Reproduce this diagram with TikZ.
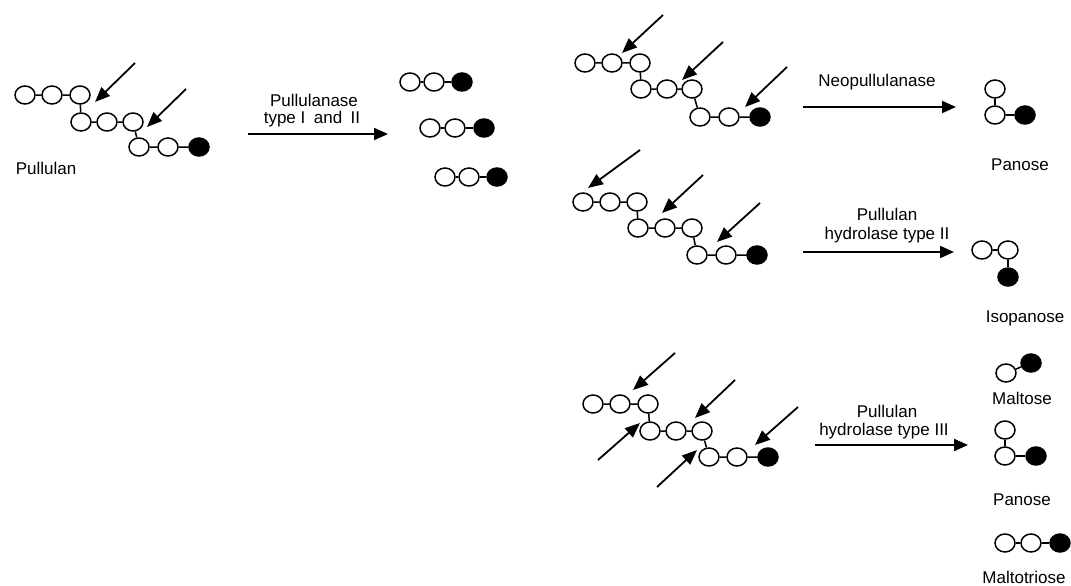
\documentclass[tikz,border=0pt]{standalone}
\usepackage{fontspec}
\setmainfont{Liberation Sans}
\usetikzlibrary{arrows.meta,shapes.geometric}
\begin{document}
\begin{tikzpicture}[x=1pt,y=-1pt,
  wc/.style={ellipse,draw,line width=1.5pt,minimum width=20pt,minimum height=18pt,inner sep=0pt},
  bc/.style={wc,fill=black},
  lk/.style={line width=1.5pt},
  cut/.style={line width=1.8pt,-{Triangle[length=15pt,width=12pt]}},
  rx/.style={line width=2pt,-{Triangle[length=14pt,width=12pt]}},
  lbl/.style={font=\fontsize{17}{20}\selectfont,inner sep=0pt,align=center}]
\useasboundingbox (0,0) rectangle (1071,586);

% ---------- Chain 1: Pullulan ----------
\node[wc] (p1a1) at (25,95) {};
\node[wc] (p1a2) at (52,95) {};
\node[wc] (p1a3) at (80,95) {};
\node[wc] (p1b1) at (81,122) {};
\node[wc] (p1b2) at (107,122) {};
\node[wc] (p1b3) at (133,122) {};
\node[wc] (p1c1) at (139,147) {};
\node[wc] (p1c2) at (168,147) {};
\node[bc] (p1c3) at (199,147) {};
\draw[lk] (p1a1)--(p1a2) (p1a2)--(p1a3) (p1a3)--(p1b1) (p1b1)--(p1b2) (p1b2)--(p1b3) (p1b3)--(p1c1) (p1c1)--(p1c2) (p1c2)--(p1c3);
\draw[cut] (135,63) -- (95,102);
\draw[cut] (186,89) -- (147,127);
\node[lbl] (pullulan) at (46,168) {Pullulan};

% ---------- Reaction 1 ----------
\coordinate (r1s) at (248,134);
\coordinate (r1e) at (388,134);
\draw[rx] (r1s) -- (r1e);
\node[lbl] (r1t) at (314,100) {Pullulanase};
\node[lbl] (r1u) at (312,119) {type I\enspace and\enspace II};

% products
\node[wc] (q1a) at (410,82) {};
\node[wc] (q1b) at (434,82) {};
\node[bc] (q1c) at (462,82) {};
\draw[lk] (q1a)--(q1b) (q1b)--(q1c);
\node[wc] (q2a) at (430,128) {};
\node[wc] (q2b) at (455,128) {};
\node[bc] (q2c) at (484,128) {};
\draw[lk] (q2a)--(q2b) (q2b)--(q2c);
\node[wc] (q3a) at (445,177) {};
\node[wc] (q3b) at (469,177) {};
\node[bc] (q3c) at (497,177) {};
\draw[lk] (q3a)--(q3b) (q3b)--(q3c);

% ---------- Chain 2: Neopullulanase ----------
\node[wc] (p2a1) at (585,63) {};
\node[wc] (p2a2) at (612,63) {};
\node[wc] (p2a3) at (640,63) {};
\node[wc] (p2b1) at (641,89) {};
\node[wc] (p2b2) at (667,89) {};
\node[wc] (p2b3) at (692,89) {};
\node[wc] (p2c1) at (700,117) {};
\node[wc] (p2c2) at (729,117) {};
\node[bc] (p2c3) at (760,117) {};
\draw[lk] (p2a1)--(p2a2) (p2a2)--(p2a3) (p2a3)--(p2b1) (p2b1)--(p2b2) (p2b2)--(p2b3) (p2b3)--(p2c1) (p2c1)--(p2c2) (p2c2)--(p2c3);
\draw[cut] (663,15) -- (622,53);
\draw[cut] (723,42) -- (682,80);
\draw[cut] (787,67) -- (745,107);

\coordinate (r2s) at (803,107);
\coordinate (r2e) at (956,107);
\draw[rx] (r2s) -- (r2e);
\node[lbl] (r2t) at (877,82) {Neopullulanase};

\node[wc] (s1a) at (995,89) {};
\node[wc] (s1b) at (995,115) {};
\node[bc] (s1c) at (1025,115) {};
\draw[lk] (s1a)--(s1b) (s1b)--(s1c);
\node[lbl] (panose1) at (1020,165) {Panose};

% ---------- Chain 3: Pullulan hydrolase type II ----------
\node[wc] (p3a1) at (583,202) {};
\node[wc] (p3a2) at (610,202) {};
\node[wc] (p3a3) at (637,202) {};
\node[wc] (p3b1) at (638,228) {};
\node[wc] (p3b2) at (665,228) {};
\node[wc] (p3b3) at (692,228) {};
\node[wc] (p3c1) at (697,255) {};
\node[wc] (p3c2) at (726,255) {};
\node[bc] (p3c3) at (757,255) {};
\draw[lk] (p3a1)--(p3a2) (p3a2)--(p3a3) (p3a3)--(p3b1) (p3b1)--(p3b2) (p3b2)--(p3b3) (p3b3)--(p3c1) (p3c1)--(p3c2) (p3c2)--(p3c3);
\draw[cut] (640,150) -- (588,188);
\draw[cut] (703,175) -- (662,213);
\draw[cut] (760,203) -- (717,242);

\coordinate (r3s) at (803,252);
\coordinate (r3e) at (954,252);
\draw[rx] (r3s) -- (r3e);
\node[lbl] (r3t) at (887,214) {Pullulan};
\node[lbl] (r3u) at (887,235) {hydrolase type II};

\node[wc] (s2a) at (982,250) {};
\node[wc] (s2b) at (1008,250) {};
\node[bc] (s2c) at (1008,277) {};
\draw[lk] (s2a)--(s2b) (s2b)--(s2c);
\node[lbl] (isopanose) at (1025,318) {Isopanose};

% ---------- Chain 4: Pullulan hydrolase type III ----------
\node[wc] (p4a1) at (593,404) {};
\node[wc] (p4a2) at (620,404) {};
\node[wc] (p4a3) at (648,404) {};
\node[wc] (p4b1) at (650,431) {};
\node[wc] (p4b2) at (676,431) {};
\node[wc] (p4b3) at (702,431) {};
\node[wc] (p4c1) at (709,457) {};
\node[wc] (p4c2) at (737,457) {};
\node[bc] (p4c3) at (768,457) {};
\draw[lk] (p4a1)--(p4a2) (p4a2)--(p4a3) (p4a3)--(p4b1) (p4b1)--(p4b2) (p4b2)--(p4b3) (p4b3)--(p4c1) (p4c1)--(p4c2) (p4c2)--(p4c3);
\draw[cut] (675,353) -- (633,390);
\draw[cut] (735,380) -- (695,418);
\draw[cut] (798,407) -- (755,445);
\draw[cut] (598,460) -- (640,423);
\draw[cut] (657,487) -- (697,450);

\coordinate (r4s) at (815,445);
\coordinate (r4e) at (968,445);
\draw[rx] (r4s) -- (r4e);
\node[lbl] (r4t) at (887,411) {Pullulan};
\node[lbl] (r4u) at (884,431) {hydrolase type III};

\node[wc] (m1a) at (1006,373) {};
\node[bc] (m1b) at (1031,363) {};
\draw[lk] (m1a)--(m1b);
\node[lbl] (maltose) at (1022,398) {Maltose};

\node[wc] (s3a) at (1005,430) {};
\node[wc] (s3b) at (1005,456) {};
\node[bc] (s3c) at (1036,456) {};
\draw[lk] (s3a)--(s3b) (s3b)--(s3c);
\node[lbl] (panose2) at (1022,500) {Panose};

\node[wc] (t1a) at (1005,543) {};
\node[wc] (t1b) at (1031,543) {};
\node[bc] (t1c) at (1060,543) {};
\draw[lk] (t1a)--(t1b) (t1b)--(t1c);
\node[lbl] (maltotriose) at (1024,577) {Maltotriose};
\end{tikzpicture}
\end{document}
